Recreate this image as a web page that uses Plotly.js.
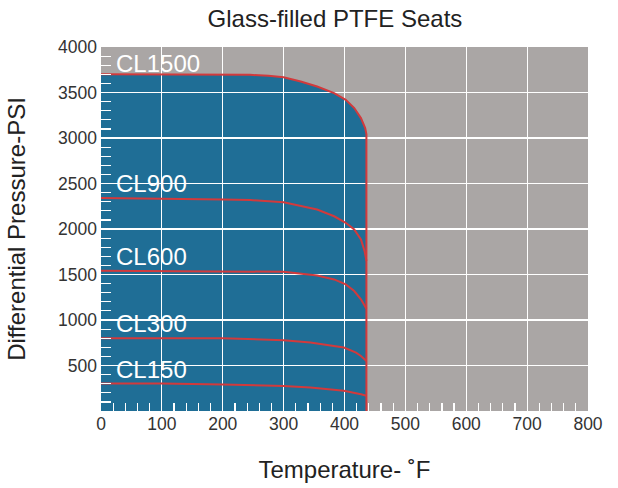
<!DOCTYPE html>
<html>
<head>
<meta charset="utf-8">
<script src="https://cdn.plot.ly/plotly-3.0.1.min.js"></script>
<style>html,body{margin:0;padding:0;background:#fff;}#chart{width:618px;height:488px;}</style>
</head>
<body>
<div id="chart"></div>
<script>
// Temperature (°F) and differential pressure (PSI)
const temp1500 = [0, 100, 200, 245, 275, 300, 328, 355, 383, 402, 416, 427, 434, 436, 436];
const cl1500   = [3700, 3700, 3700, 3694, 3684, 3667, 3621, 3566, 3493, 3420, 3329, 3219, 3110, 3040, 0];

const temp900 = [0, 100, 200, 245, 300, 355, 383, 402, 416, 427, 433, 436];
const cl900   = [2340, 2335, 2325, 2318, 2294, 2214, 2140, 2068, 1995, 1885, 1757, 1650];

const temp600 = [0, 100, 200, 300, 355, 383, 402, 416, 427, 435, 436];
const cl600   = [1540, 1535, 1534, 1530, 1490, 1446, 1391, 1318, 1227, 1136, 1125];

const temp300 = [0, 100, 200, 300, 344, 399, 419, 427, 436];
const cl300   = [800, 799, 799, 778, 752, 697, 642, 605, 550];

const temp150 = [0, 100, 200, 300, 344, 399, 427, 436];
const cl150   = [302, 302, 291, 276, 259, 222, 185, 167];

const classLabels = ["CL1500", "CL900", "CL600", "CL300", "CL150"];
const labelY = [3822, 2499, 1696, 964, 452];

const xTitle = "Temperature- \u02DAF";
const yTitle = "Differential Pressure-PSI";
const chartTitle = "Glass-filled PTFE Seats";

const FONT = "Liberation Sans, Arial, Helvetica, sans-serif";
const RED = "#d23a3c";
const BLUE = "#1f6e96";
const GRAY = "#aaa6a5";

const redLine = {color: RED, width: 2};

const traces = [
  {x: temp1500, y: cl1500, xaxis: "x", yaxis: "y", type: "scatter", mode: "lines",
   fill: "tozeroy", fillcolor: BLUE, line: {width: 0, color: BLUE}, hoverinfo: "skip", showlegend: false},
  {x: temp1500, y: cl1500, xaxis: "x2", yaxis: "y2", type: "scatter", mode: "lines", line: redLine, showlegend: false},
  {x: temp900, y: cl900, xaxis: "x2", yaxis: "y2", type: "scatter", mode: "lines", line: redLine, showlegend: false},
  {x: temp600, y: cl600, xaxis: "x2", yaxis: "y2", type: "scatter", mode: "lines", line: redLine, showlegend: false},
  {x: temp300, y: cl300, xaxis: "x2", yaxis: "y2", type: "scatter", mode: "lines", line: redLine, showlegend: false},
  {x: temp150, y: cl150, xaxis: "x2", yaxis: "y2", type: "scatter", mode: "lines", line: redLine, showlegend: false}
];

const annotations = classLabels.map((t, i) => ({
  text: t, x: 22, y: labelY[i], xref: "x2", yref: "y2",
  xanchor: "left", yanchor: "middle", showarrow: false,
  font: {family: FONT, size: 24, color: "#ffffff"}
}));

const layout = {
  width: 618, height: 488,
  margin: {l: 101, r: 30, t: 47, b: 77, pad: 0},
  paper_bgcolor: "#ffffff",
  plot_bgcolor: "rgba(0,0,0,0)",
  font: {family: FONT, color: "#333333"},
  showlegend: false,
  title: {text: chartTitle, x: 0.542, xref: "container", xanchor: "center",
          y: 0.961, yref: "container", yanchor: "middle",
          font: {family: FONT, size: 24, color: "#222222"}},
  shapes: [{type: "rect", xref: "x domain", yref: "y domain", x0: 0, x1: 1, y0: 0, y1: 1,
            fillcolor: GRAY, line: {width: 0}, layer: "below"}],
  xaxis: {range: [0, 800], visible: false, fixedrange: true, domain: [0, 1], anchor: "y"},
  yaxis: {range: [0, 4000], visible: false, fixedrange: true, domain: [0, 1], anchor: "x"},
  xaxis2: {range: [0, 800], domain: [0, 1], anchor: "y2",
           tickmode: "linear", tick0: 0, dtick: 100,
           showgrid: true, gridcolor: "#ffffff", gridwidth: 1.2,
           zeroline: false, showline: false,
           ticks: "inside", ticklen: 8, tickcolor: "#ffffff", tickwidth: 1.2,
           minor: {tick0: 0, dtick: 20, ticks: "inside", ticklen: 8, tickcolor: "#ffffff", tickwidth: 1.2, showgrid: false},
           tickfont: {family: FONT, size: 17.5, color: "#333333"},
           title: {text: xTitle, standoff: 28, font: {family: FONT, size: 24, color: "#222222"}}},
  yaxis2: {range: [0, 4000], domain: [0, 1], anchor: "x2",
           tickmode: "array", tickvals: [500, 1000, 1500, 2000, 2500, 3000, 3500, 4000],
           showgrid: true, gridcolor: "#ffffff", gridwidth: 1.2,
           zeroline: false, showline: false,
           ticks: "inside", ticklen: 10, tickcolor: "#ffffff", tickwidth: 1.2,
           ticklabelstandoff: 3,
           minor: {tick0: 0, dtick: 100, ticks: "inside", ticklen: 10, tickcolor: "#ffffff", tickwidth: 1.2, showgrid: false},
           tickfont: {family: FONT, size: 17.5, color: "#333333"},
           title: {text: yTitle, standoff: 25, font: {family: FONT, size: 24, color: "#222222"}}},
  annotations: annotations
};

Plotly.newPlot("chart", traces, layout, {displayModeBar: false, staticPlot: true});
</script>
</body>
</html>
